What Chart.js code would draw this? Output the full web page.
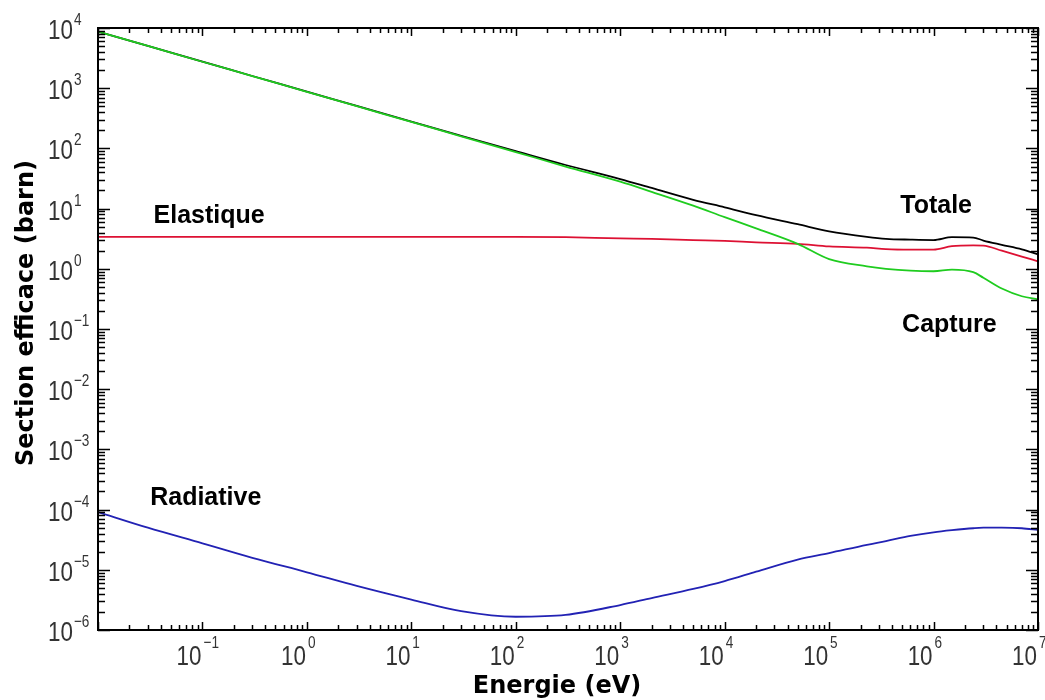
<!DOCTYPE html>
<html>
<head>
<meta charset="utf-8">
<script src="https://cdn.jsdelivr.net/npm/chart.js@4/dist/chart.umd.min.js"></script>
<style>
html,body{margin:0;padding:0;background:#fff;}
#wrap{position:relative;width:1045px;height:700px;}
</style>
</head>
<body>
<div id="wrap"><canvas id="c"></canvas></div>
<script>
// Energies (eV)
const energies = [0.01, 0.03, 0.1, 0.3, 1, 3, 10, 30, 100, 300, 1e3, 2e3, 5e3, 1e4, 2e4, 5e4, 1e5, 2.3e5, 3.5e5, 6e5, 1e6, 1.5e6, 2.4e6, 3e6, 4.5e6, 7e6, 1e7];
// Cross sections (barn)
const totale    = [8700, 5035, 2755, 1595, 875, 507, 278, 162, 90, 53, 31, 22, 14, 10.5, 7.8, 5.5, 4.2, 3.4, 3.15, 3.05, 3.0, 3.35, 3.3, 2.95, 2.5, 2.1, 1.74];
const elastique = [3.4, 3.4, 3.4, 3.4, 3.4, 3.4, 3.4, 3.4, 3.4, 3.35, 3.2, 3.15, 3.0, 2.9, 2.75, 2.6, 2.35, 2.24, 2.12, 2.08, 2.09, 2.38, 2.45, 2.43, 2.0, 1.6, 1.33];
const capture   = [8700, 5030, 2750, 1590, 870, 503, 275, 159, 87, 50, 28, 19, 11.2, 7.2, 4.7, 2.6, 1.45, 1.1, 1.0, 0.93, 0.91, 0.97, 0.88, 0.71, 0.47, 0.35, 0.31];
const radiative = [9.1e-5, 5.0e-5, 2.75e-5, 1.58e-5, 9.1e-6, 5.4e-6, 3.2e-6, 2.05e-6, 1.66e-6, 1.78e-6, 2.6e-6, 3.4e-6, 4.8e-6, 6.5e-6, 9.3e-6, 1.48e-5, 1.9e-5, 2.6e-5, 3.0e-5, 3.65e-5, 4.2e-5, 4.55e-5, 4.9e-5, 5.0e-5, 5.0e-5, 4.9e-5, 4.6e-5];

// Tick label exponents
const xTickExponents = [-1, 0, 1, 2, 3, 4, 5, 6, 7];
const yTickExponents = [-6, -5, -4, -3, -2, -1, 0, 1, 2, 3, 4];

// Curve names placed in data space
const curveLabels = [
  {text: 'Elastique', x: 0.034, y: 5.8},
  {text: 'Totale', x: 4.8e5, y: 8.55},
  {text: 'Capture', x: 5.0e5, y: 0.0875},
  {text: 'Radiative', x: 0.0316, y: 1.18e-4}
];

const xTitle = 'Energie (eV)';
const yTitle = 'Section efficace (barn)';

function pts(arr){ return energies.map((e,i)=>({x:e, y:arr[i]})); }

const supMinus = s => String(s).replace('-', '\u2212');
const SX = 0.8; // horizontal squeeze of the thin tick-label font

function squeezedText(ctx, text, x, y, align){
  const w = ctx.measureText(text).width * SX;
  const x0 = align === 'right' ? x - w : x;
  ctx.save();
  ctx.translate(x0, y);
  ctx.scale(SX, 1);
  ctx.textAlign = 'left';
  ctx.fillText(text, 0, 0);
  ctx.restore();
  return w;
}

const framePlugin = {
  id: 'frame',
  afterDatasetsDraw(chart){
    const ctx = chart.ctx, a = chart.chartArea;
    const xs = chart.scales.x, ys = chart.scales.y;
    ctx.save();
    ctx.strokeStyle = '#000';
    ctx.lineWidth = 1.5;
    ctx.beginPath();
    for (let n = -2; n <= 7; n++){
      for (let m = 1; m <= 9; m++){
        const v = m * Math.pow(10, n);
        if (v < 0.0099 || v > 1.01e7) continue;
        const px = Math.round(xs.getPixelForValue(v)) + 0.5;
        const len = m === 1 ? 8 : 5;
        ctx.moveTo(px, a.bottom); ctx.lineTo(px, a.bottom - len);
        ctx.moveTo(px, a.top); ctx.lineTo(px, a.top + len);
      }
    }
    for (let n = -6; n <= 4; n++){
      for (let m = 1; m <= 9; m++){
        const v = m * Math.pow(10, n);
        if (v < 0.99e-6 || v > 1.01e4) continue;
        const py = Math.round(ys.getPixelForValue(v)) + 0.5;
        const len = m === 1 ? 12 : 7;
        ctx.moveTo(a.left, py); ctx.lineTo(a.left + len, py);
        ctx.moveTo(a.right, py); ctx.lineTo(a.right - len, py);
      }
    }
    ctx.stroke();
    ctx.lineWidth = 2;
    ctx.strokeRect(a.left, a.top, a.right - a.left, a.bottom - a.top);
    ctx.restore();
  },
  afterDraw(chart){
    const ctx = chart.ctx, a = chart.chartArea;
    const xs = chart.scales.x, ys = chart.scales.y;
    ctx.save();
    ctx.fillStyle = '#333';
    const bigFont = '28px "Liberation Sans", sans-serif';
    const supFont = '17px "Liberation Sans", sans-serif';
    ctx.textBaseline = 'alphabetic';
    yTickExponents.forEach(n => {
      const py = ys.getPixelForValue(Math.pow(10, n));
      ctx.font = bigFont;
      const w = squeezedText(ctx, '10', 48, py + 11, 'left');
      ctx.font = supFont;
      squeezedText(ctx, supMinus(n), 48 + w + 1, py - 3, 'left');
    });
    xTickExponents.forEach(n => {
      const px = xs.getPixelForValue(Math.pow(10, n));
      ctx.font = bigFont;
      squeezedText(ctx, '10', px - 1, a.bottom + 35, 'right');
      ctx.font = supFont;
      squeezedText(ctx, supMinus(n), px + 1, a.bottom + 18, 'left');
    });
    ctx.fillStyle = '#000';
    ctx.font = 'bold 24px "DejaVu Sans", sans-serif';
    ctx.textAlign = 'center';
    ctx.fillText(xTitle, (a.left + a.right) / 2 - 11, 693);
    ctx.save();
    ctx.translate(33, (a.top + a.bottom) / 2 - 16);
    ctx.rotate(-Math.PI / 2);
    ctx.fillText(yTitle, 0, 0);
    ctx.restore();
    ctx.font = 'bold 25px "Liberation Sans", Arial, sans-serif';
    ctx.textAlign = 'left';
    curveLabels.forEach(l => {
      ctx.fillText(l.text, xs.getPixelForValue(l.x), ys.getPixelForValue(l.y));
    });
    ctx.restore();
  }
};

const common = {pointRadius: 0, borderWidth: 1.8, fill: false, cubicInterpolationMode: 'monotone'};

new Chart(document.getElementById('c'), {
  type: 'line',
  data: {
    datasets: [
      Object.assign({label: 'Capture', data: pts(capture), borderColor: '#1fcc1f', order: 0}, common),
      Object.assign({label: 'Totale', data: pts(totale), borderColor: '#000000', order: 1}, common),
      Object.assign({label: 'Elastique', data: pts(elastique), borderColor: '#dd1133', order: 2}, common),
      Object.assign({label: 'Radiative', data: pts(radiative), borderColor: '#2222b4', order: 3}, common)
    ]
  },
  options: {
    responsive: true,
    maintainAspectRatio: false,
    animation: false,
    events: [],
    layout: {padding: {left: 98, right: 7, top: 28, bottom: 70}},
    plugins: {legend: {display: false}, tooltip: {enabled: false}, title: {display: false}},
    scales: {
      x: {type: 'logarithmic', min: 0.01, max: 1e7, display: false},
      y: {type: 'logarithmic', min: 1e-6, max: 1e4, display: false}
    }
  },
  plugins: [framePlugin]
});
</script>
</body>
</html>
